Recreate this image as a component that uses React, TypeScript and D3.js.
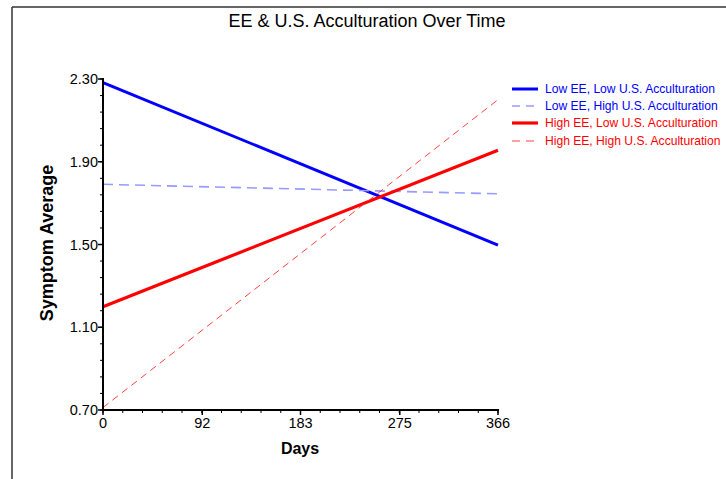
import React from "react";
import * as d3 from "d3";

const days = [0, 366];
const lowEELowUS = [2.283, 1.497];
const lowEEHighUS = [1.791, 1.745];
const highEELowUS = [1.199, 1.956];
const highEEHighUS = [0.712, 2.2];
const xTicks = [0, 92, 183, 275, 366];
const yTicks = [0.7, 1.1, 1.5, 1.9, 2.3];
const seriesNames = [
  "Low EE, Low U.S. Acculturation",
  "Low EE, High U.S. Acculturation",
  "High EE, Low U.S. Acculturation",
  "High EE, High U.S. Acculturation",
];

const styles = [
  { color: "#0000ff", width: 3, dash: "none", text: "#0000ff" },
  { color: "#9999ff", width: 1.6, dash: "10,6", text: "#0000ff" },
  { color: "#ff0000", width: 3.2, dash: "none", text: "#ff0000" },
  { color: "#ff2a2a", width: 0.9, dash: "7,5", text: "#ff0000" },
];

export default function App() {
  const W = 726, H = 479;
  const x = d3.scaleLinear().domain([0, 366]).range([103, 498]);
  const y = d3.scaleLinear().domain([0.7, 2.3]).range([410, 79]);
  const series = [lowEELowUS, lowEEHighUS, highEELowUS, highEEHighUS];
  const line = d3
    .line<[number, number]>()
    .x((d) => x(d[0]))
    .y((d) => y(d[1]));
  const xMinor = d3.range(0, 366.01, 91.5 / 5);
  const yMinor = d3.range(0.7, 2.3001, 0.08);
  const font = "Liberation Sans, Arial, sans-serif";
  return (
    <svg
      width={W}
      height={H}
      style={{ position: "absolute", left: 0, top: 0, background: "#fff" }}
      fontFamily={font}
    >
      <rect x={0} y={0} width={W} height={H} fill="#fff" />
      <line x1={12} y1={7} x2={W} y2={7} stroke="#333" strokeWidth={1.5} />
      <line x1={12} y1={7} x2={12} y2={H} stroke="#333" strokeWidth={1.5} />
      <text x={367} y={27} textAnchor="middle" fontSize={18} fill="#000">
        EE &amp; U.S. Acculturation Over Time
      </text>
      {series.map((s, i) => (
        <path
          key={i}
          d={line(days.map((d, j) => [d, s[j]] as [number, number])) || ""}
          fill="none"
          stroke={styles[i].color}
          strokeWidth={styles[i].width}
          strokeDasharray={styles[i].dash}
        />
      ))}
      {/* axes */}
      <line x1={103} y1={78} x2={103} y2={411} stroke="#000" strokeWidth={2} />
      <line x1={102} y1={410} x2={499} y2={410} stroke="#000" strokeWidth={2} />
      {yMinor.map((v, i) => (
        <line key={"ym" + i} x1={100} x2={103} y1={y(v)} y2={y(v)} stroke="#000" strokeWidth={1} />
      ))}
      {yTicks.map((v) => (
        <g key={"y" + v}>
          <line x1={98} x2={103} y1={y(v)} y2={y(v)} stroke="#000" strokeWidth={1.5} />
          <text x={98} y={y(v) + 5} textAnchor="end" fontSize={14.5} fill="#000">
            {v.toFixed(2)}
          </text>
        </g>
      ))}
      {xMinor.map((v, i) => (
        <line key={"xm" + i} x1={x(v)} x2={x(v)} y1={410} y2={413} stroke="#000" strokeWidth={1} />
      ))}
      {xTicks.map((v) => (
        <g key={"x" + v}>
          <line x1={x(v)} x2={x(v)} y1={410} y2={415} stroke="#000" strokeWidth={1.5} />
          <text x={x(v)} y={428} textAnchor="middle" fontSize={14.5} fill="#000">
            {v}
          </text>
        </g>
      ))}
      <text x={300} y={454} textAnchor="middle" fontSize={16} fontWeight="bold" fill="#000">
        Days
      </text>
      <text
        transform={`translate(53,243) rotate(-90)`}
        textAnchor="middle"
        fontSize={18}
        fontWeight="bold"
        fill="#000"
      >
        Symptom Average
      </text>
      {seriesNames.map((n, i) => {
        const yy = [89, 106, 123, 141][i];
        return (
          <g key={n}>
            <line
              x1={512}
              x2={538}
              y1={yy}
              y2={yy}
              stroke={styles[i].color}
              strokeWidth={styles[i].width}
              strokeDasharray={i % 2 === 1 ? "8,6" : "none"}
            />
            <text x={545} y={yy + 4} fontSize={12.1} fill={styles[i].text}>
              {n}
            </text>
          </g>
        );
      })}
    </svg>
  );
}
